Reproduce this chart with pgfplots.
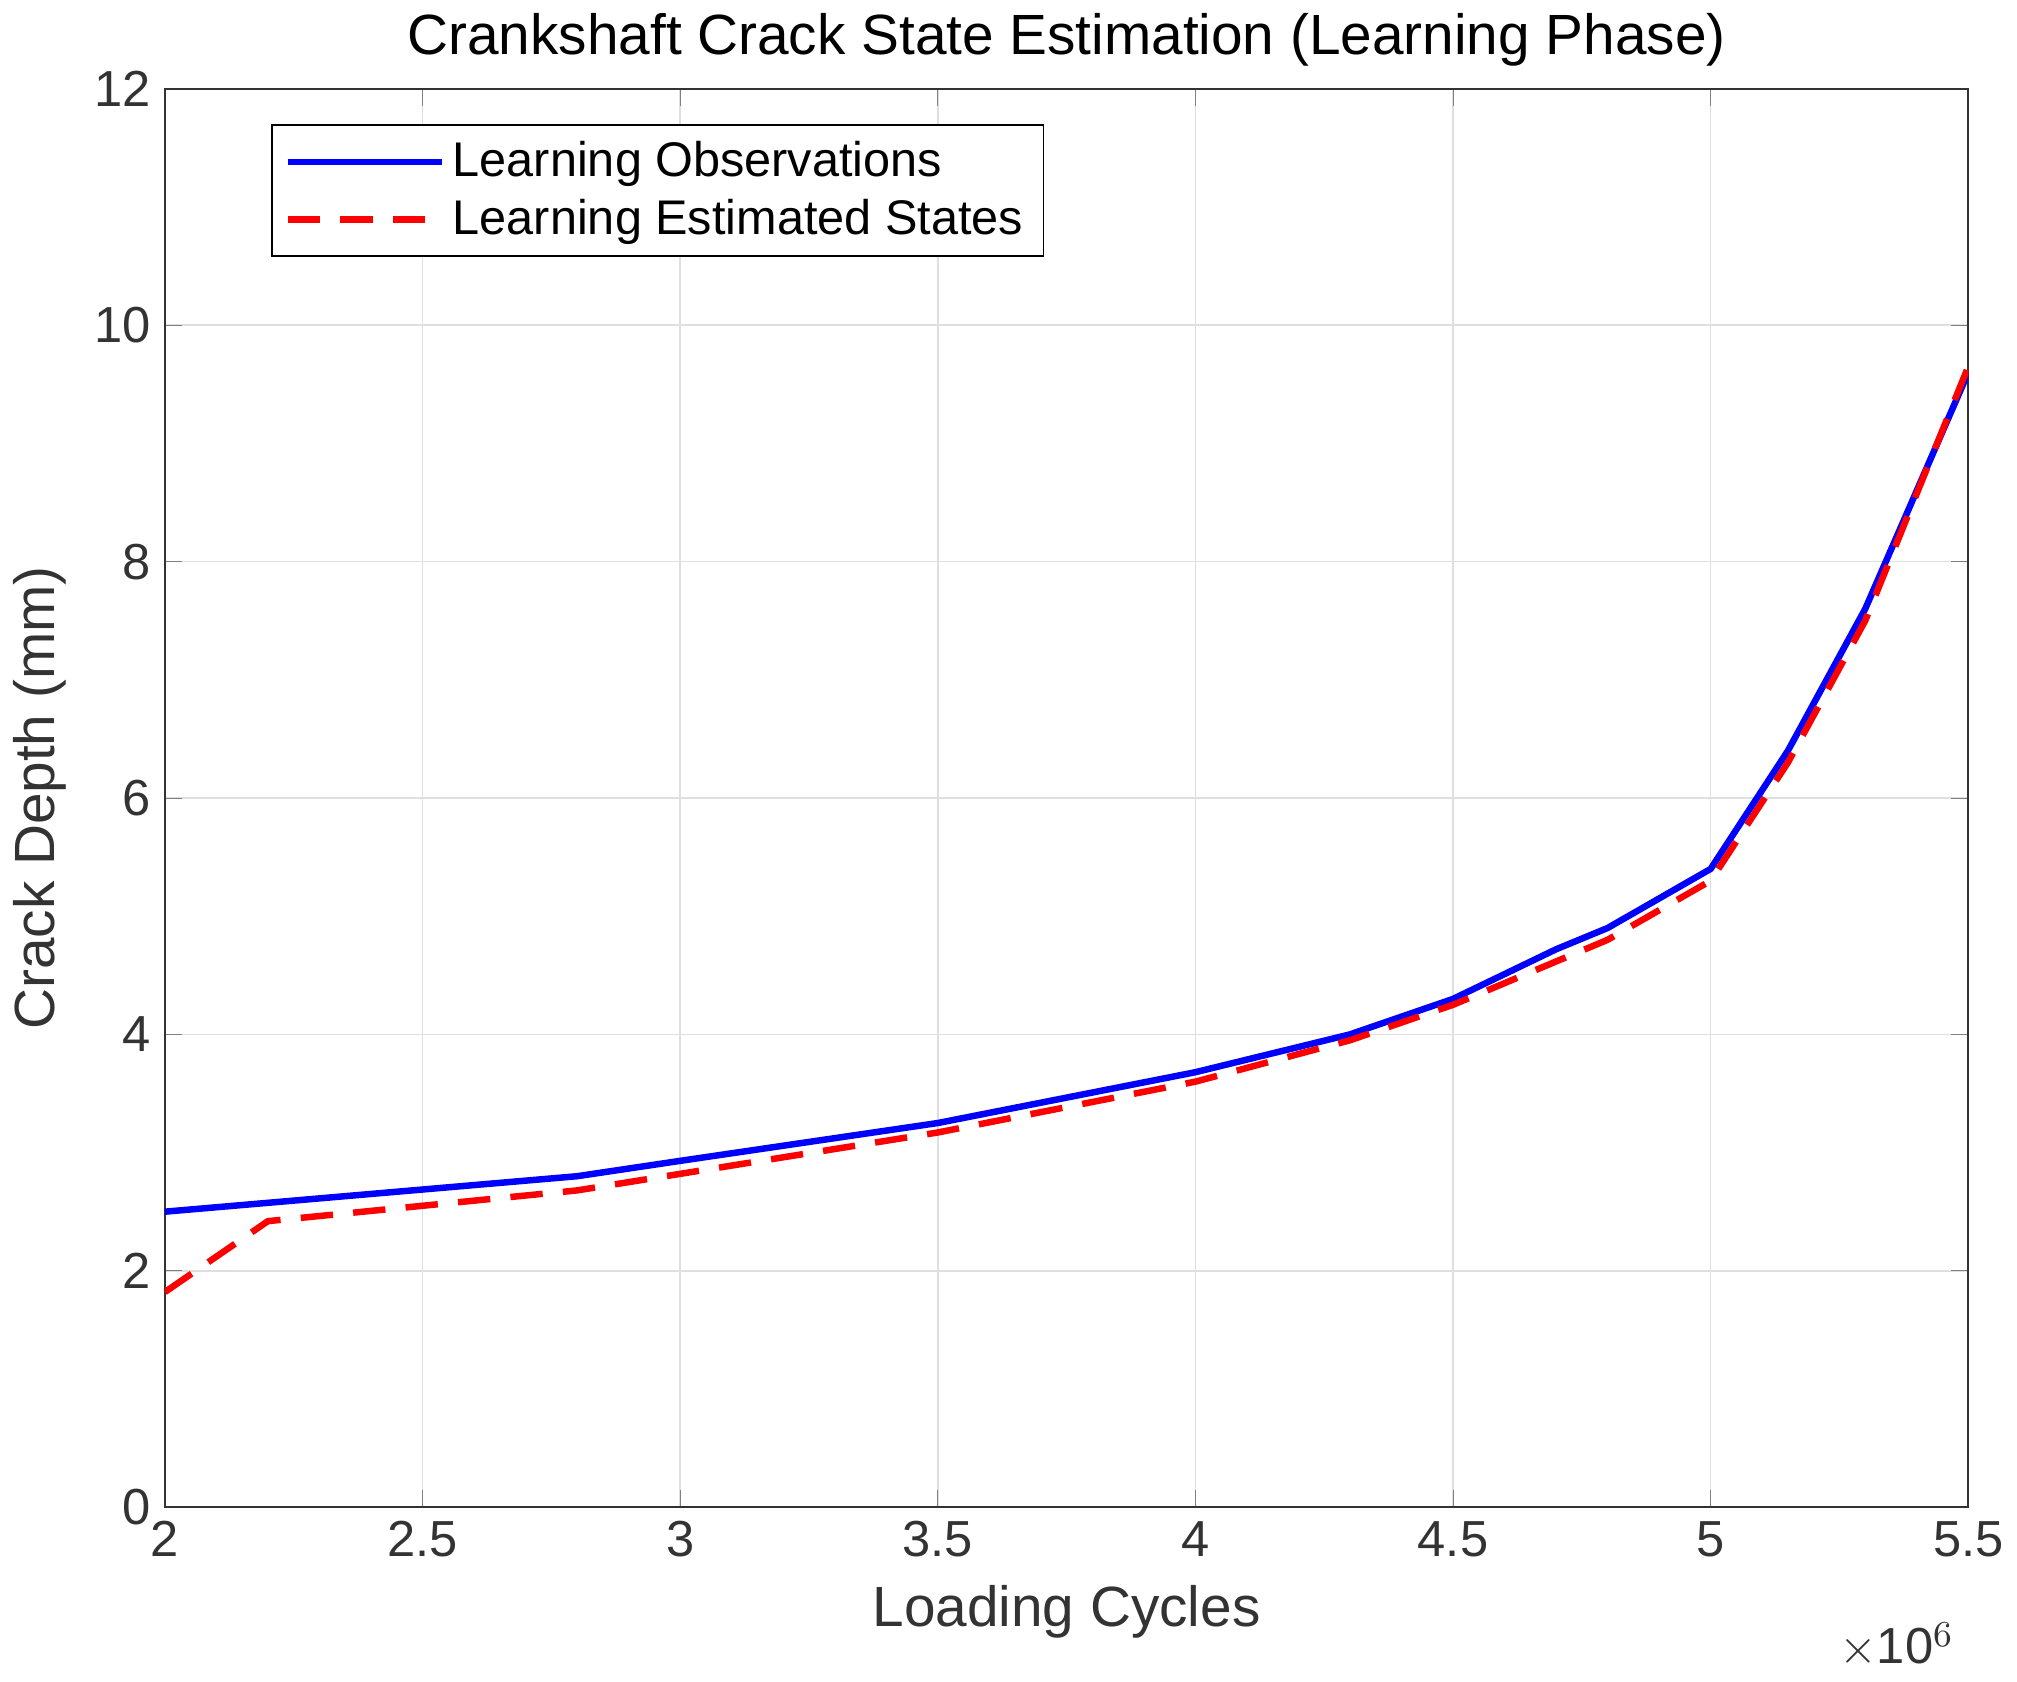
\documentclass[border=0pt]{standalone}
\usepackage{pgfplots}
\pgfplotsset{compat=1.18}
\usepackage{fontspec}
\setmainfont{Liberation Sans}
\begin{document}
\begin{tikzpicture}
\begin{axis}[
  scale only axis, width=445pt, height=350pt,
  xmin=2, xmax=5.5, ymin=0, ymax=12,
  xtick={2,2.5,3,3.5,4,4.5,5,5.5},
  ytick={0,2,4,6,8,10,12},
  grid=major, grid style={gray!25},
  tick align=inside, tick pos=both,
  axis line style={black!80},
  /pgf/number format/assume math mode=true,
  ticklabel style={font=\fontsize{12.5}{15}\selectfont, text=black!80},
  label style={font=\fontsize{14}{17}\selectfont, text=black!80},
  title style={font=\fontsize{14}{17}\selectfont, yshift=-4pt},
  title={Crankshaft Crack State Estimation (Learning Phase)},
  xlabel={Loading Cycles}, ylabel={Crack Depth (mm)},
  legend style={at={(0.059,0.975)}, anchor=north west, font=\fontsize{12}{15}\selectfont, draw=black, cells={anchor=west}},
  legend image post style={},
  legend cell align=left,
  every axis legend/.append style={legend image code/.code={\draw[#1] (0pt,0pt) -- (38pt,0pt);}},
]
\addplot[blue, line width=1.6pt] coordinates {(2,2.5)(2.8,2.8)(3,2.93)(3.5,3.25)(4,3.68)(4.3,4.0)(4.5,4.3)(4.7,4.72)(4.8,4.9)(5,5.4)(5.15,6.4)(5.3,7.6)(5.5,9.6)};
\addlegendentry{Learning Observations}
\addplot[red, line width=1.6pt, dash pattern=on 8pt off 5pt] coordinates {(2,1.82)(2.2,2.42)(2.8,2.68)(3,2.82)(3.5,3.17)(4,3.6)(4.3,3.95)(4.5,4.25)(4.8,4.8)(5,5.3)(5.15,6.3)(5.3,7.5)(5.5,9.65)};
\addlegendentry{Learning Estimated States}
\end{axis}
\node[anchor=north east, font=\fontsize{12.5}{15}\selectfont, text=black!80] at (445pt,-25pt) {$\times$10$^6$};
\end{tikzpicture}
\end{document}
